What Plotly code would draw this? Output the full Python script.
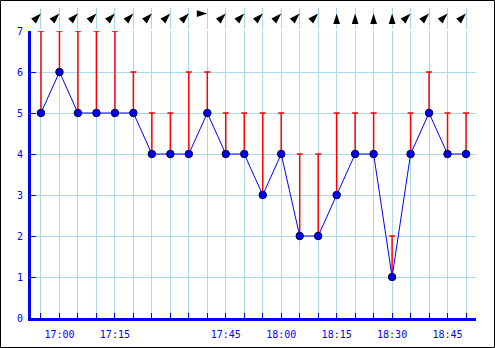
import plotly.graph_objects as go

times = ["16:55", "17:00", "17:05", "17:10", "17:15", "17:20", "17:25", "17:30",
         "17:35", "17:40", "17:45", "17:50", "17:55", "18:00", "18:05", "18:10",
         "18:15", "18:20", "18:25", "18:30", "18:35", "18:40", "18:45", "18:50"]
avg = [5, 6, 5, 5, 5, 5, 4, 4, 4, 5, 4, 4, 3, 4, 2, 2, 3, 4, 4, 1, 4, 5, 4, 4]
gust = [7, 7, 7, 7, 7, 6, 5, 5, 6, 6, 5, 5, 5, 5, 4, 4, 5, 5, 5, 2, 5, 6, 5, 5]
# arrow heading (degrees clockwise from north)
heading = [45, 45, 45, 45, 45, 45, 45, 45, 45, 90, 45, 45, 45, 45, 45, 45,
           0, 0, 0, 0, 45, 45, 45, 45]
labeled = ["17:00", "17:15", "17:45", "18:00", "18:15", "18:30", "18:45"]
yticks = [0, 1, 2, 3, 4, 5, 6, 7]

idx = list(range(len(times)))
ticktext = [t if t in labeled else "" for t in times]

H = 348
top, bottom = 8, 30
ph = H - top - bottom          # 310
main_top = 31
d_main = (H - bottom - main_top) / ph   # fraction for main plot

fig = go.Figure()

fig.add_trace(go.Scatter(
    x=idx, y=avg, mode="lines+markers",
    line=dict(color="#0000ff", width=1),
    marker=dict(size=7.5, color="#0000ee", line=dict(color="#000044", width=1)),
    error_y=dict(type="data", symmetric=False,
                 array=[g - a for g, a in zip(gust, avg)],
                 arrayminus=[0] * len(avg),
                 color="#ff0000", thickness=1.5, width=3),
    cliponaxis=False, showlegend=False, hoverinfo="skip"))

fig.add_trace(go.Scatter(
    x=idx, y=[0.74] * len(idx), mode="markers", yaxis="y2",
    marker=dict(symbol="arrow", size=11, color="black", angle=heading,
                line=dict(width=0)),
    cliponaxis=False, showlegend=False, hoverinfo="skip"))

font = dict(family="DejaVu Sans Mono", size=10, color="#0000ff")

fig.update_layout(
    width=495, height=348,
    margin=dict(l=31, r=19, t=top, b=bottom, autoexpand=False),
    paper_bgcolor="white", plot_bgcolor="white",
    xaxis=dict(range=[-0.54, 23.54], tickvals=idx, ticktext=ticktext,
               showgrid=True, gridcolor="#add8e6", gridwidth=1,
               zeroline=False, showline=True, linecolor="#0000ff", linewidth=3,
               ticks="inside", ticklen=5, tickcolor="#0000ff", tickwidth=1,
               tickfont=font, ticklabelstandoff=5, fixedrange=True,
               automargin=False),
    yaxis=dict(range=[0, 7], tickvals=yticks, domain=[0, d_main],
               showgrid=True, gridcolor="#add8e6", gridwidth=1,
               zeroline=False, showline=True, linecolor="#0000ff", linewidth=3,
               ticks="inside", ticklen=5, tickcolor="#0000ff", tickwidth=1,
               tickfont=font, ticklabelstandoff=3, fixedrange=True,
               automargin=False),
    yaxis2=dict(range=[0, 1], domain=[d_main + 0.005, 1], visible=False,
                showgrid=False, zeroline=False, fixedrange=True,
                automargin=False),
    shapes=[dict(type="rect", xref="paper", yref="paper",
                 x0=(0.5 - 31) / 445, x1=(494.5 - 31) / 445,
                 y0=(H - bottom - (H - 0.5)) / ph, y1=(H - bottom - 0.5) / ph,
                 line=dict(color="black", width=1), fillcolor="rgba(0,0,0,0)")],
)

fig.write_html("out.html")
